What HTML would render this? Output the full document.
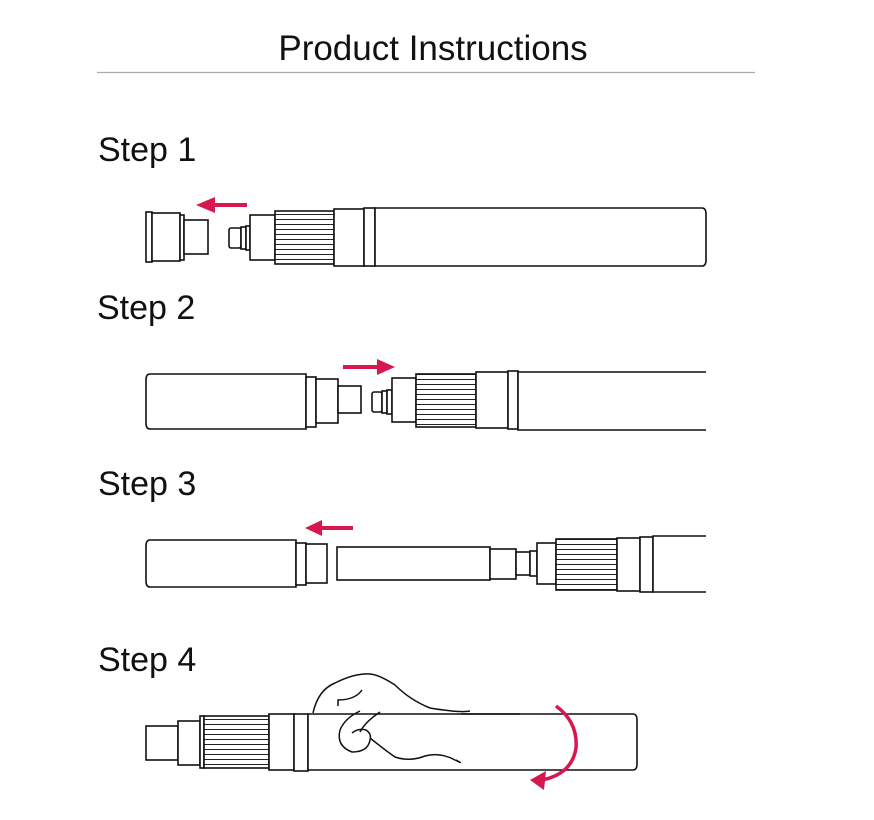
<!DOCTYPE html><html><head><style>body{margin:0;background:#fff}svg{display:block}</style></head><body>
<svg width="874" height="820" viewBox="0 0 874 820" xmlns="http://www.w3.org/2000/svg" font-family="Liberation Sans, sans-serif">
<defs>
<pattern id="kn" width="10" height="5" patternUnits="userSpaceOnUse"><rect width="10" height="5" fill="#fff"/><line x1="0" y1="4.5" x2="10" y2="4.5" stroke="#222" stroke-width="1"/></pattern>
</defs>
<text x="433" y="60" font-size="35" text-anchor="middle" fill="#111">Product Instructions</text>
<line x1="97" y1="72.5" x2="755" y2="72.5" stroke="#aaa" stroke-width="1.2"/>
<g font-size="34" fill="#111">
<text x="98" y="161">Step 1</text><text x="97" y="319">Step 2</text><text x="98" y="495">Step 3</text><text x="98" y="671">Step 4</text>
</g>
<g fill="#fff" stroke="#111" stroke-width="1.6">
<rect x="146" y="212" width="6" height="50"/><rect x="152" y="213" width="28" height="48"/><rect x="180" y="215" width="4" height="45"/><rect x="184" y="220" width="24" height="34"/>
<rect x="229" y="228" width="12" height="20" rx="2"/><rect x="241" y="227" width="5" height="22"/><rect x="246" y="226" width="4" height="24"/>
<rect x="250" y="215" width="25" height="45"/><rect x="275" y="211" width="59" height="53" fill="url(#kn)"/>
<rect x="334" y="209" width="30" height="57"/><rect x="364" y="208" width="11" height="58"/>
<path d="M375 208 H702 Q706 208 706 214 V260 Q706 266 702 266 H375 Z"/>
<path d="M306 374 H150 Q146 374 146 380 V423 Q146 429 150 429 H306 Z"/><rect x="306" y="377" width="10" height="50"/><rect x="316" y="379" width="22" height="44"/><rect x="338" y="386" width="23" height="27"/>
<rect x="372" y="392" width="10" height="20" rx="2"/><rect x="382" y="391" width="5" height="22"/><rect x="387" y="390" width="5" height="24"/>
<rect x="392" y="378" width="24" height="44"/><rect x="416" y="374" width="60" height="53" fill="url(#kn)"/>
<rect x="476" y="372" width="32" height="56"/><rect x="508" y="371" width="10" height="58"/>
<path d="M706 372 H518 V430 H706" fill="#fff"/>
<path d="M296 540 H150 Q146 540 146 546 V581 Q146 587 150 587 H296 Z"/><rect x="296" y="543" width="10" height="42"/><rect x="306" y="544" width="21" height="39"/>
<rect x="337" y="547" width="153" height="33"/><rect x="490" y="549" width="26" height="30"/><rect x="516" y="552" width="14" height="23"/><rect x="530" y="551" width="7" height="25"/>
<rect x="537" y="543" width="19" height="41"/><rect x="556" y="539" width="61" height="51" fill="url(#kn)"/>
<rect x="617" y="538" width="23" height="53"/><rect x="640" y="537" width="13" height="55"/>
<path d="M706 536 H653 V592 H706" fill="#fff"/>
<rect x="146" y="726" width="32" height="34"/><rect x="178" y="721" width="22" height="44"/><rect x="200" y="716" width="4" height="52"/><rect x="204" y="716" width="65" height="52" fill="url(#kn)"/>
<rect x="269" y="714" width="25" height="56"/><rect x="294" y="714" width="14" height="57"/>
<path d="M308 714 H633 Q637 714 637 720 V764 Q637 770 633 770 H308 Z"/>
</g>
<g fill="none" stroke="#111" stroke-width="1.5">
<path d="M313 713 Q318 690 335 683 Q355 673 370 674 Q380 675 395 685 Q410 700 430 708 Q460 713 470 711"/>
<path d="M461 714 H520"/>
<path d="M338 706 V700 Q355 700 362 690"/>
<path d="M360 711 Q345 718 340 730 Q336 746 352 752 Q368 752 370 740 Q372 734 366 730 Q358 728 352 733"/>
<path d="M370 738 Q385 750 395 757 Q410 762 425 756 Q440 752 455 760 Q465 765 456 760"/>
<path d="M380 712 Q365 722 360 732"/>
</g>
<g fill="#d6184f" stroke="none">
<rect x="212" y="203" width="35" height="4"/><polygon points="196,205 215,197 215,213"/>
<rect x="343" y="365" width="38" height="4"/><polygon points="395,367 377,359 377,375"/>
<rect x="318" y="526" width="35" height="4"/><polygon points="305,528 322,520 322,536"/>
<polygon points="530,780 546,771 544,790"/>
</g>
<path d="M556 706 Q578 722 576 748 Q572 774 542 780" fill="none" stroke="#d6184f" stroke-width="3.5"/>
</svg>
</body></html>
